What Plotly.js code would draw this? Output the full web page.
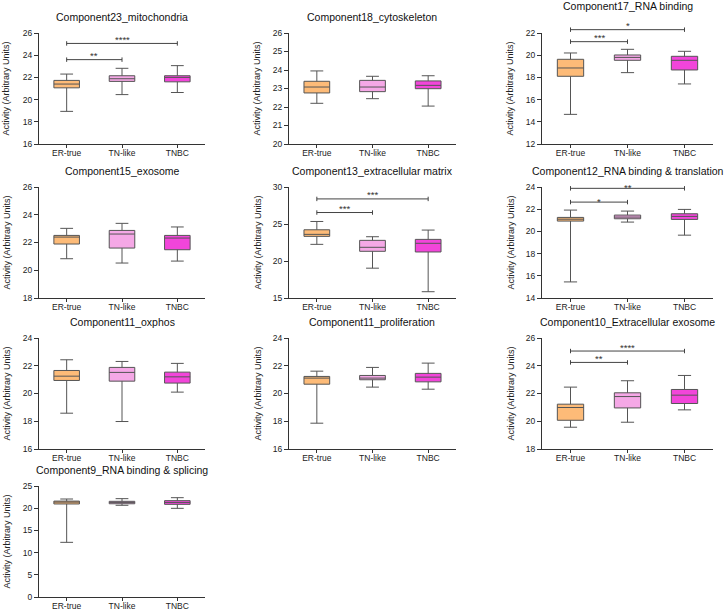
<!DOCTYPE html>
<html>
<head>
<meta charset="utf-8">
<script src="https://cdn.plot.ly/plotly-3.0.1.min.js"></script>
<style>html,body{margin:0;padding:0;background:#fff;}#chart{width:724px;height:611px;}</style>
</head>
<body>
<div id="chart"></div>
<script>
// ---------- DATA ----------
const categories = ['ER-true', 'TN-like', 'TNBC'];
const titles = [
  'Component23_mitochondria', 'Component18_cytoskeleton', 'Component17_RNA binding',
  'Component15_exosome', 'Component13_extracellular matrix', 'Component12_RNA binding & translation',
  'Component11_oxphos', 'Component11_proliferation', 'Component10_Extracellular exosome',
  'Component9_RNA binding & splicing'
];
const yTitle = 'Activity (Arbitrary Units)';
const yMin  = [16, 20, 12, 18, 15, 14, 16, 16, 18, 0];
const yMax  = [26, 26, 22, 26, 30, 24, 24, 24, 26, 25];
const yStep = [2, 1, 2, 2, 5, 2, 2, 2, 2, 5];

const lowerWhisker = [
  [18.94, 20.45, 20.64], [22.20, 22.45, 22.05], [14.67, 18.43, 17.41],
  [20.83, 20.52, 20.66], [22.25, 19.03, 15.85], [15.45, 20.84, 19.66],
  [18.58, 17.98, 20.10], [17.86, 20.46, 20.31], [19.57, 19.93, 20.82],
  [12.31, 20.65, 19.97]
];
const q1 = [
  [21.06, 21.64, 21.60], [22.76, 22.83, 22.99], [18.10, 19.54, 18.67],
  [21.89, 21.60, 21.48], [23.33, 21.31, 21.22], [20.93, 21.14, 21.08],
  [20.94, 20.89, 20.75], [20.67, 20.99, 20.84], [20.07, 20.96, 21.28],
  [20.95, 21.00, 20.87]
];
const median = [
  [21.40, 21.88, 22.00], [23.08, 23.08, 23.17], [18.85, 19.80, 19.54],
  [22.39, 22.61, 22.32], [23.60, 21.85, 22.39], [21.10, 21.29, 21.35],
  [21.25, 21.52, 21.20], [21.11, 21.11, 21.18], [20.99, 21.78, 21.88],
  [21.40, 21.30, 21.30]
];
const q3 = [
  [21.73, 22.15, 22.15], [23.39, 23.44, 23.41], [19.63, 20.02, 19.90],
  [22.51, 22.87, 22.51], [24.22, 22.79, 22.92], [21.26, 21.47, 21.59],
  [21.66, 21.88, 21.54], [21.23, 21.30, 21.45], [21.23, 22.05, 22.29],
  [21.60, 21.55, 21.70]
];
const upperWhisker = [
  [22.30, 22.82, 23.06], [23.95, 23.66, 23.69], [20.20, 20.53, 20.35],
  [23.02, 23.38, 23.12], [25.34, 23.28, 24.18], [21.92, 21.83, 21.98],
  [22.43, 22.31, 22.17], [21.61, 21.88, 22.19], [22.46, 22.92, 23.30],
  [22.07, 22.15, 22.37]
];

// significance brackets
const sigPanel = [0, 0, 2, 2, 4, 4, 5, 5, 8, 8];
const sigFrom  = ['ER-true', 'ER-true', 'ER-true', 'ER-true', 'ER-true', 'ER-true', 'ER-true', 'ER-true', 'ER-true', 'ER-true'];
const sigTo    = ['TN-like', 'TNBC', 'TN-like', 'TNBC', 'TN-like', 'TNBC', 'TN-like', 'TNBC', 'TN-like', 'TNBC'];
const sigY     = [23.6, 25.06, 21.22, 22.3, 26.55, 28.39, 22.64, 23.88, 24.24, 25.06];
const sigLabel = ['**', '****', '***', '*', '***', '***', '*', '**', '**', '****'];

// ---------- STYLE / LAYOUT ----------
const W = 724, H = 611;
const fills = ['#FDBB78', '#F5A8E6', '#F245DA'];
const lineCol = '#555555';
const axCol = '#333333';
const FONT = 'Liberation Sans, Arial, Helvetica, sans-serif';
const colLeft = [39, 289, 542], colRight = [205, 456, 713];
const rowTop = [33, 187, 338, 486], rowBottom = [144, 298, 449, 597];
const titleYpx = [17, 17, 6, 171, 171, 171, 322, 322, 322, 470];
const yTitleXpx = [6, 257, 510];
const sigTextShift = [4, 4, 4, 4, 4, 4, 0.5, 0.5, 4, 4]; // px shift of star labels

const traces = [];
const layout = {
  width: W, height: H,
  margin: {l: 0, r: 0, t: 0, b: 0},
  paper_bgcolor: '#fff', plot_bgcolor: 'rgba(0,0,0,0)',
  showlegend: false,
  boxmode: 'overlay', boxgap: 0.34,
  font: {family: FONT, color: '#222'},
  annotations: [], shapes: []
};

for (let i = 0; i < titles.length; i++) {
  const r = Math.floor(i / 3), c = i % 3;
  const sfx = i === 0 ? '' : String(i + 1);
  const xa = 'x' + sfx, ya = 'y' + sfx;
  const xd = [colLeft[c] / W, colRight[c] / W];
  const yd = [1 - rowBottom[r] / H, 1 - rowTop[r] / H];

  layout['xaxis' + sfx] = {
    domain: xd, anchor: ya, type: 'category', categoryorder: 'array', categoryarray: categories,
    range: [-0.5, 2.5], showline: true, linecolor: axCol, linewidth: 1,
    ticks: 'outside', ticklen: 3, tickcolor: axCol, tickwidth: 1, ticklabelstandoff: -2,
    showgrid: false, zeroline: false, fixedrange: true,
    tickfont: {family: FONT, size: 8.5, color: '#222'}
  };
  layout['yaxis' + sfx] = {
    domain: yd, anchor: xa, range: [yMin[i], yMax[i]], tick0: yMin[i], dtick: yStep[i],
    showline: true, linecolor: axCol, linewidth: 1,
    ticks: 'outside', ticklen: 4, tickcolor: axCol, tickwidth: 1,
    showgrid: false, zeroline: false, fixedrange: true,
    tickfont: {family: FONT, size: 8.5, color: '#222'}
  };

  for (let j = 0; j < categories.length; j++) {
    traces.push({
      type: 'box', xaxis: xa, yaxis: ya,
      x: [categories[j]],
      lowerfence: [lowerWhisker[i][j]], q1: [q1[i][j]], median: [median[i][j]],
      q3: [q3[i][j]], upperfence: [upperWhisker[i][j]],
      fillcolor: fills[j], line: {color: lineCol, width: 1},
      whiskerwidth: 0.5, boxpoints: false, hoverinfo: 'skip', name: categories[j]
    });
  }

  // panel title
  layout.annotations.push({
    text: titles[i], xref: 'paper', yref: 'paper',
    x: (xd[0] + xd[1]) / 2, y: 1 - titleYpx[i] / H,
    xanchor: 'center', yanchor: 'middle', showarrow: false,
    font: {family: FONT, size: 10.5, color: '#111'}
  });
  // y axis title
  layout.annotations.push({
    text: yTitle, xref: 'paper', yref: 'paper',
    x: yTitleXpx[c] / W, y: (yd[0] + yd[1]) / 2,
    xanchor: 'center', yanchor: 'middle', textangle: -90, showarrow: false,
    font: {family: FONT, size: 9, color: '#222'}
  });
}

// significance brackets (positioned via the panel's own y range)
for (let k = 0; k < sigPanel.length; k++) {
  const i = sigPanel[k];
  const sfx = i === 0 ? '' : String(i + 1);
  const x0 = categories.indexOf(sigFrom[k]), x1 = categories.indexOf(sigTo[k]);
  const yf = (sigY[k] - yMin[i]) / (yMax[i] - yMin[i]);
  const capH = 0.02;
  const base = {xref: 'x' + sfx, yref: 'y' + sfx + ' domain', type: 'line', line: {color: '#444', width: 1}};
  layout.shapes.push(Object.assign({}, base, {x0: x0, x1: x1, y0: yf, y1: yf}));
  layout.shapes.push(Object.assign({}, base, {x0: x0, x1: x0, y0: yf - capH, y1: yf + capH}));
  layout.shapes.push(Object.assign({}, base, {x0: x1, x1: x1, y0: yf - capH, y1: yf + capH}));
  layout.annotations.push({
    text: sigLabel[k], xref: 'x' + sfx, yref: 'y' + sfx + ' domain',
    x: (x0 + x1) / 2, y: yf, yshift: sigTextShift[k], xanchor: 'center', yanchor: 'middle', showarrow: false,
    font: {family: FONT, size: 9.5, color: '#333'}
  });
}

Plotly.newPlot('chart', traces, layout, {staticPlot: true, displayModeBar: false});
</script>
</body>
</html>
